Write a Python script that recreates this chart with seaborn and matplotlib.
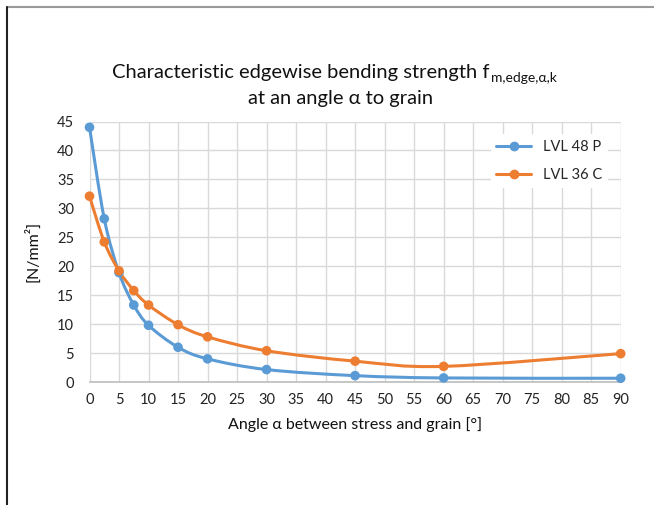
import numpy as np
import matplotlib
matplotlib.use("Agg")
import matplotlib.pyplot as plt
import seaborn as sns
import pandas as pd
from matplotlib.path import Path
from matplotlib.patches import PathPatch
from matplotlib.lines import Line2D

sns.set_theme(style="white")
plt.rcParams["font.family"] = ["Lato", "DejaVu Sans"]

# data
angles = [0, 2.5, 5, 7.5, 10, 15, 20, 30, 45, 60, 90]
lvl_48p = [44.0, 28.2, 18.9, 13.3, 9.8, 6.0, 4.0, 2.15, 1.1, 0.7, 0.65]
lvl_36c = [32.1, 24.2, 19.2, 15.8, 13.3, 9.9, 7.8, 5.4, 3.6, 2.7, 4.9]
series_names = ["LVL 48 P", "LVL 36 C"]
colors = ["#5B9BD5", "#ED7D31"]

df = pd.DataFrame({"angle": angles * 2,
                   "value": lvl_48p + lvl_36c,
                   "series": [series_names[0]] * len(angles) + [series_names[1]] * len(angles)})

fig = plt.figure(figsize=(6.54, 5.05), dpi=100)
ax = fig.add_axes([89.5 / 654, 1 - 382 / 505, 531.2 / 654, 260.5 / 505])


def smooth_path(x, y):
    # Excel-like smoothed line: cubic Bezier segments (Catmull-Rom style)
    pts = np.column_stack([x, y]).astype(float)
    verts = [pts[0]]
    codes = [Path.MOVETO]
    n = len(pts)
    for i in range(n - 1):
        p0 = pts[i - 1] if i > 0 else pts[i]
        p1, p2 = pts[i], pts[i + 1]
        p3 = pts[i + 2] if i + 2 < n else pts[i + 1]
        verts += [p1 + (p2 - p0) / 6, p2 - (p3 - p1) / 6, p2]
        codes += [Path.CURVE4] * 3
    return Path(verts, codes)


for name, col in zip(series_names, colors):
    sub = df[df["series"] == name]
    ax.add_patch(PathPatch(smooth_path(sub["angle"], sub["value"]), facecolor="none",
                           edgecolor=col, lw=2.2, zorder=3, capstyle="round", clip_on=False))

sns.scatterplot(data=df, x="angle", y="value", hue="series", palette=colors,
                s=48, edgecolor="none", ax=ax, legend=False, zorder=4, clip_on=False)

ax.set_xlim(0, 90)
ax.set_ylim(0, 45)
ax.set_xticks(range(0, 91, 5))
ax.set_yticks(range(0, 46, 5))
ax.grid(True, color="#d9d9d9", lw=1)
for s in ["top", "right", "left"]:
    ax.spines[s].set_visible(False)
ax.spines["bottom"].set_color("#bfbfbf")
ax.tick_params(axis="both", length=0, labelsize=10.5, colors="#222222", pad=8)
ax.tick_params(axis="y", pad=11)

ax.set_xlabel("Angle α between stress and grain [°]", fontsize=11.5, color="#111111", labelpad=7)
ax.set_ylabel("[N/mm²]", fontsize=11.5, color="#111111", labelpad=12)

# title with subscript placed right after the main text
t1 = fig.text(0, 1 - 78 / 505, "Characteristic edgewise bending strength f",
              ha="left", va="baseline", fontsize=14.5, color="#111111")
t_sub = fig.text(0, 1 - 82 / 505, "m,edge,α,k", ha="left", va="baseline",
                 fontsize=10, color="#111111")
fig.canvas.draw()
r = fig.canvas.get_renderer()
w1 = t1.get_window_extent(r).width
w2 = t_sub.get_window_extent(r).width
x0 = 334 - (w1 + w2) / 2
t1.set_x(x0 / 654)
t_sub.set_x((x0 + w1 + 1) / 654)
fig.text(341 / 654, 1 - 104 / 505, "at an angle α to grain",
         ha="center", va="baseline", fontsize=14.5, color="#111111")

handles = [Line2D([0], [0], color=c, lw=2.2, marker="o", markersize=6) for c in colors]
leg = ax.legend(handles, series_names, loc="upper right", bbox_to_anchor=(0.99, 0.98),
                frameon=True, facecolor="white", edgecolor="none", fontsize=10.5,
                handlelength=2.4, labelspacing=1.0, framealpha=1)

# outer border (top and left only)
fig.add_artist(Line2D([6.5 / 654, 1], [1 - 7 / 505, 1 - 7 / 505], color="#999999", lw=1.5))
fig.add_artist(Line2D([6.5 / 654, 6.5 / 654], [0, 1 - 7 / 505], color="#222222", lw=1.5))

fig.savefig("out.png", dpi=100, facecolor="white")
